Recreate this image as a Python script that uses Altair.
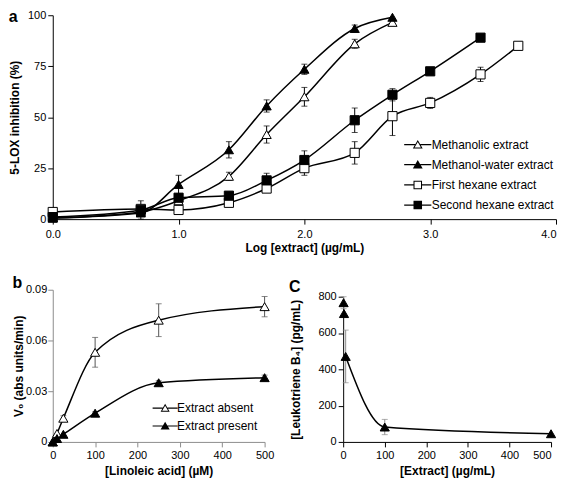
import altair as alt
import pandas as pd

FONT = "Liberation Sans"

# ---------------- panel a : 5-LOX inhibition ----------------
series_a = ["Methanolic extract", "Methanol-water extract",
            "First hexane extract", "Second hexane extract"]
meth_x = [0.0, 0.7, 1.0, 1.4, 1.7, 2.0, 2.4, 2.7]
meth_y = [0.5, 3.5, 9.0, 21.0, 41.5, 60.0, 86.0, 96.5]
meth_e = [0, 0, 0, 2.0, 4.2, 4.6, 2.2, 0]
mw_x = [0.0, 0.7, 1.0, 1.4, 1.7, 2.0, 2.4, 2.7]
mw_y = [0.5, 3.0, 17.0, 34.0, 55.5, 73.5, 93.5, 99.0]
mw_e = [0, 0, 4.5, 4.0, 3.0, 2.5, 1.7, 0]
fh_x = [0.0, 0.7, 1.0, 1.4, 1.7, 2.0, 2.4, 2.7, 3.0, 3.4, 3.7]
fh_y = [3.5, 5.0, 4.5, 8.0, 15.0, 25.0, 32.5, 50.5, 57.0, 71.0, 85.0]
fh_e = [0, 0, 0, 0, 0, 3.5, 5.5, 9.5, 2.7, 3.5, 0]
sh_x = [0.0, 0.7, 1.0, 1.4, 1.7, 2.0, 2.4, 2.7, 3.0, 3.4]
sh_y = [1.0, 4.5, 10.5, 11.5, 19.0, 29.0, 48.5, 61.0, 72.5, 89.0]
sh_e = [0, 4.5, 0, 0, 3.5, 4.5, 6.0, 3.0, 0, 0]
a_ticks = [0, 1, 2, 3, 4]
a_yticks = [0, 25, 50, 75, 100]

# ---------------- panel b : kinetics ----------------
series_b = ["Extract absent", "Extract present"]
b_x = [0, 10, 25, 100, 250, 500]
b_absent = [0.0, 0.005, 0.014, 0.053, 0.072, 0.080]
b_absent_e = [0, 0, 0.0015, 0.0088, 0.0097, 0.006]
b_present = [0.0, 0.002, 0.0045, 0.017, 0.035, 0.038]
b_present_e = [0, 0, 0, 0.0008, 0.0012, 0.0015]
b_yticks = [0, 0.03, 0.06, 0.09]
b_xticks = [0, 100, 200, 300, 400, 500]

# ---------------- panel c : leukotriene B4 ----------------
c_x = [1, 2, 6, 100, 500]
c_y = [767, 707, 471, 82, 45]
c_e = [33, 0, 145, 42, 0]
c_curve = [False, False, True, True, True]
c_yticks = [0, 200, 400, 600, 800]
c_xticks = [0, 100, 200, 300, 400, 500]

# legend symbols (line with marker), drawn by fill only; open markers use a hole
LINE_T = "M-1.05,-0.05L-0.2,-0.05L-0.2,0.05L-1.05,0.05ZM0.2,-0.05L1.05,-0.05L1.05,0.05L0.2,0.05Z"
LINE_S = "M-1.05,-0.05L-0.33,-0.05L-0.33,0.05L-1.05,0.05ZM0.33,-0.05L1.05,-0.05L1.05,0.05L0.33,0.05Z"
TRI_OUT = "M0,-0.36L0.38,0.3L-0.38,0.3Z"
TRI_IN = "M0,-0.2L-0.245,0.22L0.245,0.22Z"
SQ_OUT = "M-0.33,-0.33L0.33,-0.33L0.33,0.33L-0.33,0.33Z"
SQ_IN = "M-0.25,-0.25L-0.25,0.25L0.25,0.25L0.25,-0.25Z"
OPEN_TRI = LINE_T + TRI_OUT + TRI_IN
FILL_TRI = LINE_T + TRI_OUT
OPEN_SQ = LINE_S + SQ_OUT + SQ_IN
FILL_SQ = LINE_S + SQ_OUT


def frame(names, xs_list, ys_list, es_list):
    rows = []
    for name, xs, ys, es in zip(names, xs_list, ys_list, es_list):
        for x, y, e in zip(xs, ys, es):
            rows.append({"series": name, "x": x, "y": y, "err": e,
                         "lo": y - e, "hi": y + e})
    return pd.DataFrame(rows)


def panel(df, xscale, yscale, xaxis, yaxis, shapes, fills, legend_paths,
          legend_props, interp, width, height, title, err_color="black",
          line_filter=None):
    domain = list(dict.fromkeys(df["series"]))
    base = alt.Chart(df)
    xenc = alt.X("x:Q", scale=xscale, axis=xaxis)
    yenc = alt.Y("y:Q", scale=yscale, axis=yaxis)
    ylo = alt.Y("lo:Q", scale=yscale, axis=yaxis)
    yhi = alt.Y("hi:Q", scale=yscale, axis=yaxis)
    eb = base.transform_filter("datum.err > 0")
    rule = eb.mark_rule(color=err_color, strokeWidth=1).encode(
        x=xenc, y=ylo, y2="hi:Q")
    cap_lo = eb.mark_tick(orient="horizontal", size=6, thickness=1,
                          color=err_color).encode(x=xenc, y=ylo)
    cap_hi = eb.mark_tick(orient="horizontal", size=6, thickness=1,
                          color=err_color).encode(x=xenc, y=yhi)
    lb = base if line_filter is None else base.transform_filter(line_filter)
    line = lb.mark_line(interpolate=interp, color="black",
                        strokeWidth=1.5).encode(x=xenc, y=yenc,
                                                detail="series:N")
    pts = base.mark_point(filled=True, size=85, stroke="black",
                          strokeWidth=1, opacity=1).encode(
        x=xenc, y=yenc,
        shape=alt.Shape("series:N", scale=alt.Scale(domain=domain, range=shapes),
                        legend=None),
        fill=alt.Fill("series:N", scale=alt.Scale(domain=domain, range=fills),
                      legend=None))
    layers = [rule, cap_lo, cap_hi, line, pts]
    if legend_paths is not None:
        leg = alt.Legend(title=None, orient="none", symbolOpacity=1,
                         symbolStrokeWidth=0, symbolFillColor="black",
                         labelFontSize=12, labelColor="black", labelFont=FONT,
                         padding=0, **legend_props)
        legl = base.mark_point(filled=True, fill="black", opacity=0,
                               strokeWidth=0).encode(
            x=xenc, y=yenc,
            shape=alt.Shape("series:N",
                            scale=alt.Scale(domain=domain, range=legend_paths),
                            legend=leg))
        layers.append(legl)
    ch = alt.layer(*layers).resolve_scale(shape="independent")
    return ch.properties(width=width, height=height, title=title)


def letter(t, offset, dy):
    return alt.TitleParams(t, anchor="start", frame="bounds", fontSize=16,
                           fontWeight="bold", font=FONT, color="black",
                           offset=offset, dy=dy)


def last_right(v):
    return {"condition": {"test": f"datum.value == {v}", "value": "right"},
            "value": "center"}


# panel a
df_a = frame(series_a, [meth_x, mw_x, fh_x, sh_x], [meth_y, mw_y, fh_y, sh_y],
             [meth_e, mw_e, fh_e, sh_e])
chart_a = panel(
    df_a,
    alt.Scale(domain=[0, 4], nice=False, zero=False),
    alt.Scale(domain=[0, 100], nice=False),
    alt.Axis(values=a_ticks, format=".1f", title="Log [extract] (µg/mL)",
             titlePadding=4, labelPadding=4, labelAlign=last_right(4)),
    alt.Axis(values=a_yticks, title="5-LOX inhibition (%)", titlePadding=6),
    ["triangle-up", "triangle-up", "square", "square"],
    ["white", "black", "white", "black"],
    [OPEN_TRI, FILL_TRI, OPEN_SQ, FILL_SQ],
    dict(legendX=354, legendY=117, symbolSize=676, rowPadding=1.3, labelOffset=1),
    "monotone", 506, 205, letter("a", -5, 11))

# panel b
df_b = frame(series_b, [b_x, b_x], [b_absent, b_present], [b_absent_e, b_present_e])
gray_axis = dict(domainColor="#8c8c8c", tickColor="#8c8c8c")
chart_b = panel(
    df_b,
    alt.Scale(domain=[0, 500], nice=False),
    alt.Scale(domain=[0, 0.09], nice=False),
    alt.Axis(values=b_xticks, title="[Linoleic acid] (µM)", titlePadding=5,
             labelPadding=3, **gray_axis),
    alt.Axis(values=b_yticks, format="~g", title="V₀ (abs units/min)", titlePadding=0,
             labelPadding=1, **gray_axis),
    ["triangle-up", "triangle-up"],
    ["white", "black"],
    [OPEN_TRI, FILL_TRI],
    dict(legendX=101, legendY=107, symbolSize=576, rowPadding=-13.5, labelOffset=0),
    "monotone", 213, 153, letter("b", 0, 7), err_color="#555555")

# panel c (plot area as tall as b's; the 0-800 axis starts 7px lower)
df_c = pd.DataFrame({"series": ["LTB4"] * len(c_x), "x": c_x, "y": c_y, "err": c_e,
                     "curve": c_curve})
df_c["lo"] = df_c["y"] - df_c["err"]
df_c["hi"] = df_c["y"] + df_c["err"]
chart_c = panel(
    df_c,
    alt.Scale(domain=[0, 500], nice=False),
    alt.Scale(domain=[0, 800], nice=False, range=[153, 7]),
    alt.Axis(values=c_xticks, title="[Extract] (µg/mL)", titlePadding=5,
             labelPadding=3, labelAlign=last_right(500)),
    alt.Axis(values=c_yticks, title="[Leukotriene B₄] (pg/mL)", titlePadding=16),
    ["triangle-up"], ["black"], None, {},
    "monotone", 209, 153, letter("C", 0, 5), err_color="#8c8c8c",
    line_filter="datum.curve")

row = alt.hconcat(chart_b, chart_c, spacing=14).resolve_scale(
    fill="independent", shape="independent")

chart = alt.vconcat(
    chart_a, row, spacing=21,
).resolve_scale(fill="independent", shape="independent").properties(
    padding=0).configure(font=FONT).configure_view(stroke=None).configure_axis(
    grid=False, labelFontSize=11, titleFontSize=12, titleFontWeight="bold",
    labelColor="black", titleColor="black", domainColor="black",
    tickColor="black", tickSize=5, labelFont=FONT, titleFont=FONT,
    labelPadding=2, domainWidth=1, tickWidth=1, minExtent=0, labelOverlap=False,
    labelFlush=False,
).configure_title(font=FONT)

chart.save("out.html", embed_options={"renderer": "svg", "actions": False})
